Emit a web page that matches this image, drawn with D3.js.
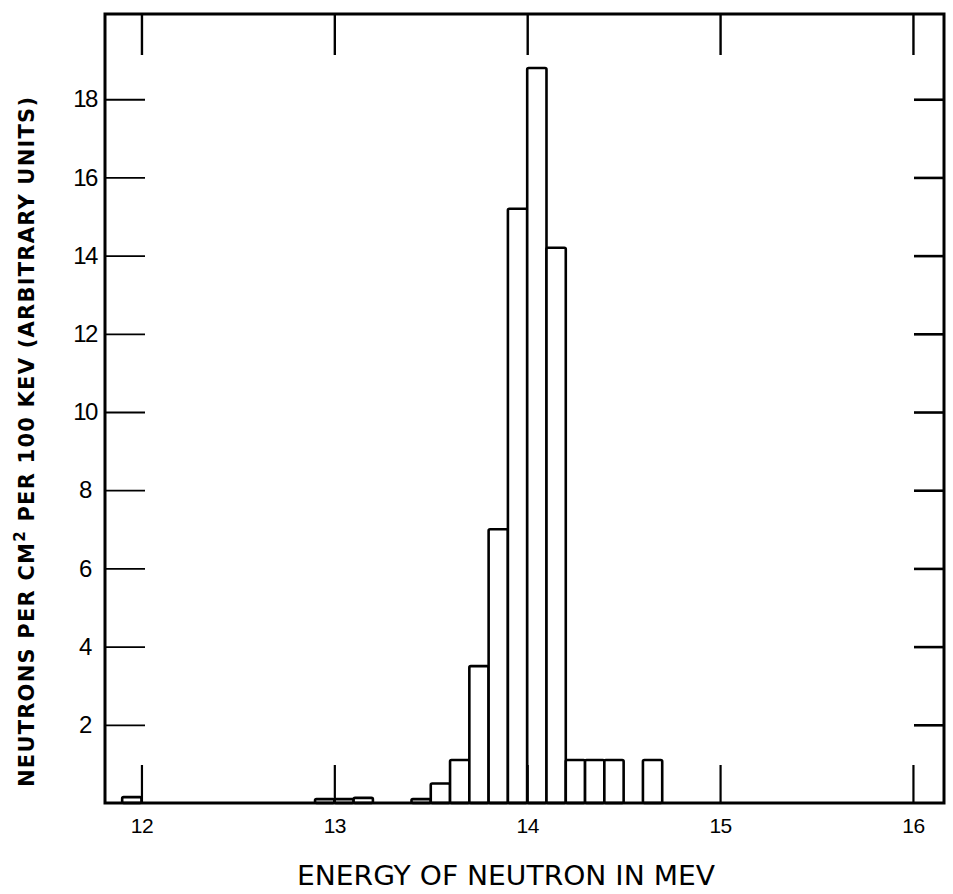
<!DOCTYPE html>
<html>
<head>
<meta charset="utf-8">
<script src="https://cdn.jsdelivr.net/npm/d3@7"></script>
<style>
  body { margin: 0; background: #fff; }
  svg { display: block; }
  .tick text { font-family: "Liberation Sans", Arial, sans-serif; fill: #000; }
</style>
</head>
<body>
<div id="chart"></div>
<script>
// histogram bins (lower edge, MeV) and heights, 0.1 MeV wide
var binStart = [11.9, 12.9, 13.0, 13.1, 13.4, 13.5, 13.6, 13.7, 13.8, 13.9, 14.0, 14.1, 14.2, 14.3, 14.4, 14.6];
var counts   = [0.15, 0.1, 0.1, 0.13, 0.1, 0.5, 1.1, 3.5, 7.0, 15.2, 18.8, 14.2, 1.1, 1.1, 1.1, 1.1];
var binWidth = 0.1;

var xTicks = [12, 13, 14, 15, 16];
var yTicks = [2, 4, 6, 8, 10, 12, 14, 16, 18];

var svgWidth = 953, svgHeight = 894;
var plotLeft = 105, plotRight = 944, plotTop = 14, plotBottom = 803;

var svg = d3.select('#chart').append('svg')
  .attr('width', svgWidth).attr('height', svgHeight);

var x = d3.scaleLinear().domain([11.811, 16.161]).range([plotLeft, plotRight]);
var y = d3.scaleLinear().domain([0, 20.18]).range([plotBottom, plotTop]);

// bars
svg.append('g').selectAll('rect')
  .data(binStart)
  .enter().append('rect')
  .attr('x', function(d) { return x(d); })
  .attr('width', function(d) { return x(d + binWidth) - x(d); })
  .attr('y', function(d, i) { return y(counts[i]); })
  .attr('height', function(d, i) { return y(0) - y(counts[i]); })
  .attr('rx', 1.5)
  .attr('fill', '#fff')
  .attr('stroke', '#000')
  .attr('stroke-width', 2.6);

// axes, ticks pointing inward
var bottomAxis = d3.axisBottom(x).tickValues(xTicks).tickSize(-38).tickPadding(15).tickFormat(d3.format('d'));
var topAxis = d3.axisTop(x).tickValues(xTicks).tickSize(-41).tickFormat('');
var leftAxis = d3.axisLeft(y).tickValues(yTicks).tickSize(-40).tickPadding(12).tickFormat(d3.format('d'));
var rightAxis = d3.axisRight(y).tickValues(yTicks).tickSize(-30).tickFormat('');

function styleAxis(g, w) {
  g.select('.domain').remove();
  g.selectAll('line').attr('stroke', '#000').attr('stroke-width', w);
}

svg.append('g').attr('transform', 'translate(0,' + plotBottom + ')').call(bottomAxis)
  .call(styleAxis, 2.2)
  .selectAll('text').attr('font-size', 21).attr('letter-spacing', '-0.5px');
svg.append('g').attr('transform', 'translate(0,' + plotTop + ')').call(topAxis).call(styleAxis, 2.4);
svg.append('g').attr('transform', 'translate(' + plotLeft + ',0)').call(leftAxis)
  .call(styleAxis, 1.8)
  .selectAll('text').attr('font-size', 24).attr('letter-spacing', '-1.5px')
  .attr('text-anchor', 'middle').attr('dx', -8);
svg.append('g').attr('transform', 'translate(' + plotRight + ',0)').call(rightAxis).call(styleAxis, 2.6);

// frame
svg.append('rect')
  .attr('x', plotLeft).attr('y', plotTop)
  .attr('width', plotRight - plotLeft).attr('height', plotBottom - plotTop)
  .attr('fill', 'none').attr('stroke', '#000').attr('stroke-width', 3);

// axis titles
svg.append('text')
  .attr('x', 506).attr('y', 885)
  .attr('text-anchor', 'middle')
  .attr('font-family', '"DejaVu Sans", sans-serif')
  .attr('font-size', 27)
  .attr('textLength', 418).attr('lengthAdjust', 'spacingAndGlyphs')
  .text('ENERGY OF NEUTRON IN MEV');

var yt = svg.append('text')
  .attr('transform', 'translate(34,442) rotate(-90)')
  .attr('text-anchor', 'middle')
  .attr('font-family', '"DejaVu Sans", sans-serif')
  .attr('font-weight', 'bold')
  .attr('font-size', 21)
  .attr('textLength', 690).attr('lengthAdjust', 'spacing');
yt.append('tspan').text('NEUTRONS  PER CM');
yt.append('tspan').attr('dy', -9).attr('font-size', 15).text('2');
yt.append('tspan').attr('dy', 9).text('  PER 100 KEV (ARBITRARY UNITS)');
</script>
</body>
</html>
